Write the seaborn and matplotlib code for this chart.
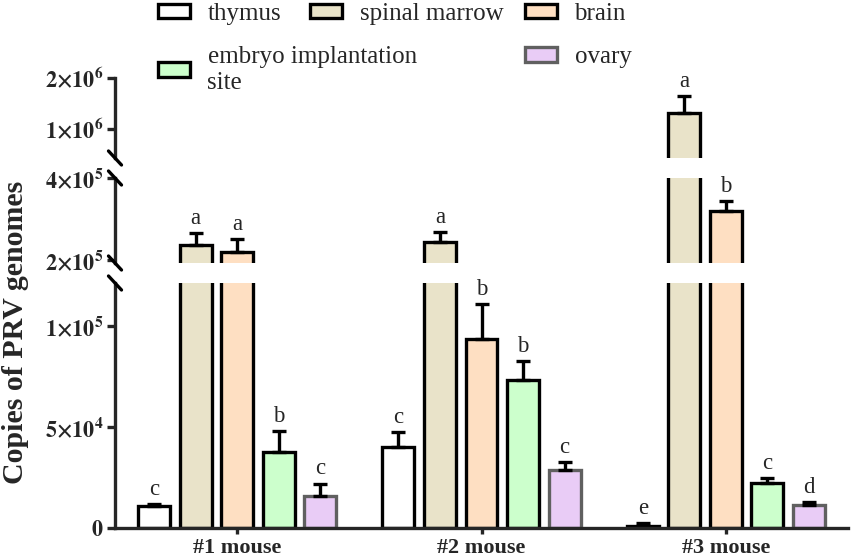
import numpy as np
import pandas as pd
import seaborn as sns
import matplotlib.pyplot as plt

# data
mice = ["#1 mouse", "#2 mouse", "#3 mouse"]
tissues = ["thymus", "spinal marrow", "brain", "embryo implantation site", "ovary"]

thymus_mean = [1.09e4, 4.0e4, 1.2e3]
thymus_sd = [1.0e3, 7.5e3, 1.3e3]
spinal_mean = [2.37e5, 2.44e5, 1.31e6]
spinal_sd = [2.9e4, 2.4e4, 3.4e5]
brain_mean = [2.2e5, 9.36e4, 3.2e5]
brain_sd = [3.1e4, 1.74e4, 2.4e4]
embryo_mean = [3.76e4, 7.33e4, 2.23e4]
embryo_sd = [1.04e4, 9.4e3, 2.5e3]
ovary_mean = [1.58e4, 2.87e4, 1.14e4]
ovary_sd = [6.2e3, 4.0e3, 1.5e3]

thymus_sig = ["c", "c", "e"]
spinal_sig = ["a", "a", "a"]
brain_sig = ["a", "b", "b"]
embryo_sig = ["b", "b", "c"]
ovary_sig = ["c", "c", "d"]

colors = ["#FFFFFF", "#E9E3C9", "#FEDFC2", "#CCFFCC", "#E9CCF6"]
edges = ["black", "black", "black", "black", "#606060"]

df = pd.DataFrame({
    "mouse": mice * 5,
    "tissue": np.repeat(tissues, 3),
    "mean": thymus_mean + spinal_mean + brain_mean + embryo_mean + ovary_mean,
    "sd": thymus_sd + spinal_sd + brain_sd + embryo_sd + ovary_sd,
    "sig": thymus_sig + spinal_sig + brain_sig + embryo_sig + ovary_sig,
})

sns.set_style("ticks")
plt.rcParams["font.family"] = ["Liberation Serif", "DejaVu Serif"]
plt.rcParams["mathtext.fontset"] = "stix"

W, H = 851, 560
LW = 2.4
fig = plt.figure(figsize=(W / 100, H / 100), dpi=100)


def rect(top, bottom):
    # pixel rows -> figure fraction
    return [115 / W, 1 - bottom / H, 733 / W, (bottom - top) / H]


panels = [
    dict(rect=rect(283, 528), ylim=(0, 1.213e5), ticks=[0, 5e4, 1e5],
         labels=[r"$\mathbf{0}$", r"$\mathbf{5{\times}10^{4}}$", r"$\mathbf{1{\times}10^{5}}$"]),
    dict(rect=rect(178, 263), ylim=(1.927e5, 4e5), ticks=[2e5, 4e5],
         labels=[r"$\mathbf{2{\times}10^{5}}$", r"$\mathbf{4{\times}10^{5}}$"]),
    dict(rect=rect(78, 158), ylim=(4.31e5, 2e6), ticks=[1e6, 2e6],
         labels=[r"$\mathbf{1{\times}10^{6}}$", r"$\mathbf{2{\times}10^{6}}$"]),
]


def panel_of(value):
    if value < panels[0]["ylim"][1]:
        return 0
    if value < panels[1]["ylim"][1]:
        return 1
    return 2


axes = []
for p_idx, p in enumerate(panels):
    ax = fig.add_axes(p["rect"])
    sns.barplot(data=df, x="mouse", y="mean", hue="tissue", hue_order=tissues,
                palette=colors, saturation=1, width=0.85, gap=0.23,
                errorbar=None, linewidth=LW, edgecolor="black", legend=False, ax=ax)

    bar_groups = list(ax.containers)
    for k, container in enumerate(bar_groups):
        sub = df[df["tissue"] == tissues[k]]
        for bar, (_, row) in zip(container, sub.iterrows()):
            bar.set_edgecolor(edges[k])
            xc = bar.get_x() + bar.get_width() / 2
            ax.errorbar(xc, row["mean"], yerr=[[0], [row["sd"]]], fmt="none",
                        ecolor="black", elinewidth=LW, capsize=4.7, capthick=LW)
            top = row["mean"] + row["sd"]
            if panel_of(top) == p_idx:
                ax.annotate(row["sig"], (xc, top), xytext=(0, 3), textcoords="offset points",
                            ha="center", va="bottom", fontsize=16.5)

    ax.set_xlim(-0.5, 2.5)
    ax.set_ylim(*p["ylim"])
    ax.set_yticks(p["ticks"], labels=p["labels"])
    ax.set_xlabel("")
    ax.set_ylabel("")
    ax.set_facecolor("none")
    sns.despine(ax=ax)
    for s in ["left", "bottom"]:
        ax.spines[s].set_linewidth(LW)
    ax.tick_params(axis="both", width=LW, length=6, labelsize=16, pad=2)
    if p_idx == 0:
        ax.set_xticks(range(3), labels=mice, fontsize=16, fontweight="bold")
        ax.tick_params(axis="x", length=4, pad=3)
    else:
        ax.spines["bottom"].set_visible(False)
        ax.tick_params(axis="x", bottom=False, labelbottom=False)
    axes.append(ax)

# break marks on the y axis
dx, dy = 6.5 / W, 7 / H
for ax, ends in zip(axes, [["top"], ["bottom", "top"], ["bottom"]]):
    pos = ax.get_position()
    for e in ends:
        y = pos.y1 if e == "top" else pos.y0
        fig.add_artist(plt.Line2D([pos.x0 - dx, pos.x0 + dx], [y + dy, y - dy],
                                  transform=fig.transFigure, color="black", lw=LW))

fig.text(16 / W, 1 - 332 / H, "Copies of PRV genomes", rotation=90, ha="center",
         va="center", fontsize=21.5, fontweight="bold")

# legend, laid out in the same loose grid as the original
handles = [plt.Rectangle((0, 0), 1, 1, facecolor=c, edgecolor=e, linewidth=LW)
           for c, e in zip(colors, edges)]
labels = ["thymus", "spinal marrow", "brain", "embryo implantation\nsite", "ovary"]
leg_kw = dict(loc="upper left", frameon=False, fontsize=18, handlelength=1.28,
              handleheight=0.5, handletextpad=0.7, labelspacing=0.85,
              borderpad=0, borderaxespad=0)
for idx, x in [([0, 3], 158), ([1], 310), ([2, 4], 525)]:
    leg = fig.legend([handles[i] for i in idx], [labels[i] for i in idx],
                     bbox_to_anchor=(x / W, 1 - 3 / H), **leg_kw)
    for t in leg.get_texts():
        t.set_linespacing(1.2)

fig.savefig("out.png", dpi=100)
